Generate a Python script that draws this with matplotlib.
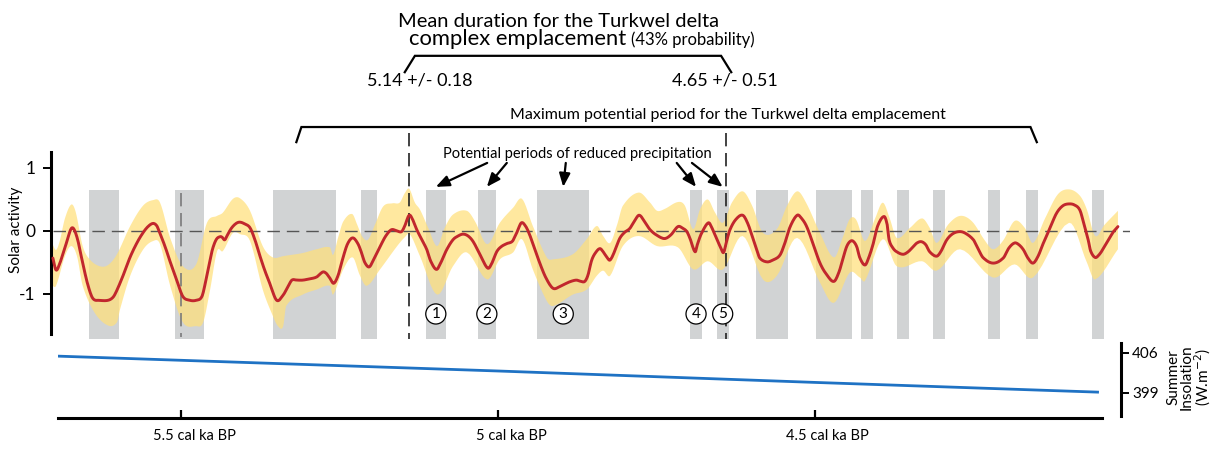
import numpy as np
import matplotlib
matplotlib.use('Agg')
import matplotlib.pyplot as plt
from matplotlib import font_manager as fm
from matplotlib.transforms import ScaledTranslation

# ---------------- data (ages in cal ka BP) ----------------
mean_age = [5.702, 5.697, 5.691, 5.681, 5.672, 5.664, 5.655, 5.647, 5.639, 5.628, 5.615, 5.607, 5.601,
            5.591, 5.580, 5.569, 5.560, 5.552, 5.544, 5.538, 5.533, 5.525, 5.517, 5.506, 5.497, 5.486,
            5.476, 5.467, 5.461, 5.454, 5.450, 5.444, 5.438, 5.435, 5.431, 5.426, 5.420, 5.413, 5.407,
            5.399, 5.391, 5.383, 5.375, 5.368, 5.360, 5.349, 5.339, 5.331, 5.325, 5.317, 5.308, 5.297,
            5.286, 5.276, 5.270, 5.265, 5.259, 5.252, 5.244, 5.237, 5.229, 5.221, 5.215, 5.210, 5.203,
            5.196, 5.186, 5.177, 5.168, 5.159, 5.152, 5.147, 5.140, 5.134, 5.128, 5.121, 5.112, 5.106,
            5.097, 5.090, 5.081, 5.071, 5.063, 5.055, 5.047, 5.039, 5.028, 5.016, 5.009, 5.002, 4.995,
            4.986, 4.977, 4.970, 4.963, 4.956, 4.950, 4.942, 4.934, 4.924, 4.913, 4.902, 4.892, 4.885,
            4.876, 4.869, 4.863, 4.858, 4.852, 4.845, 4.839, 4.834, 4.828, 4.823, 4.815, 4.808, 4.800,
            4.792, 4.784, 4.777, 4.768, 4.760, 4.749, 4.737, 4.727, 4.716, 4.708, 4.702, 4.697, 4.689,
            4.685, 4.679, 4.668, 4.662, 4.655, 4.648, 4.644, 4.639, 4.634, 4.625, 4.614, 4.606, 4.597,
            4.591, 4.587, 4.576, 4.566, 4.555, 4.547, 4.539, 4.528, 4.521, 4.513, 4.503, 4.492, 4.481,
            4.470, 4.462, 4.455, 4.450, 4.445, 4.440, 4.434, 4.429, 4.421, 4.415, 4.408, 4.401, 4.391,
            4.386, 4.383, 4.377, 4.371, 4.361, 4.353, 4.345, 4.339, 4.332, 4.325, 4.319, 4.308, 4.301,
            4.292, 4.282, 4.271, 4.262, 4.250, 4.243, 4.235, 4.219, 4.203, 4.194, 4.185, 4.178, 4.171,
            4.164, 4.156, 4.148, 4.140, 4.129, 4.119, 4.109, 4.099, 4.090, 4.082, 4.076, 4.069, 4.065,
            4.058, 4.052, 4.045, 4.038, 4.029, 4.022]
mean_solar = [-0.43, -0.62, -0.51, -0.20, 0.05, -0.10, -0.51, -0.85, -1.07, -1.10, -1.10, -1.05, -0.94,
              -0.70, -0.41, -0.18, -0.03, 0.07, 0.12, 0.08, -0.04, -0.25, -0.49, -0.80, -1.04, -1.10,
              -1.10, -1.04, -0.80, -0.46, -0.28, -0.13, -0.09, -0.10, -0.14, -0.05, 0.05, 0.12, 0.14,
              0.11, 0.05, -0.15, -0.41, -0.62, -0.83, -1.10, -1.02, -0.88, -0.78, -0.78, -0.78, -0.76,
              -0.73, -0.65, -0.68, -0.75, -0.83, -0.70, -0.41, -0.20, -0.11, -0.20, -0.35, -0.50, -0.57,
              -0.45, -0.25, -0.08, 0.02, 0.00, -0.01, 0.08, 0.25, 0.17, 0.02, -0.12, -0.30, -0.48,
              -0.61, -0.50, -0.30, -0.14, -0.08, -0.05, -0.08, -0.17, -0.38, -0.59, -0.50, -0.33, -0.25,
              -0.20, -0.16, -0.02, 0.13, 0.07, -0.06, -0.28, -0.51, -0.75, -0.91, -0.88, -0.83, -0.80,
              -0.78, -0.80, -0.80, -0.70, -0.46, -0.33, -0.28, -0.33, -0.42, -0.46, -0.30, -0.12, -0.02,
              0.04, 0.17, 0.25, 0.14, 0.02, -0.07, -0.12, -0.06, 0.07, 0.04, -0.01, -0.12, -0.33,
              -0.20, -0.04, 0.13, 0.04, -0.12, -0.28, -0.34, -0.15, 0.02, 0.18, 0.25, 0.12, -0.14,
              -0.32, -0.43, -0.49, -0.46, -0.38, -0.18, 0.07, 0.25, 0.20, 0.07, -0.20, -0.51, -0.70,
              -0.80, -0.65, -0.41, -0.25, -0.17, -0.16, -0.25, -0.43, -0.54, -0.42, -0.20, 0.08, 0.23,
              0.10, -0.14, -0.27, -0.33, -0.37, -0.33, -0.25, -0.19, -0.17, -0.22, -0.33, -0.40, -0.32,
              -0.14, -0.04, -0.01, -0.04, -0.14, -0.27, -0.42, -0.51, -0.43, -0.27, -0.19, -0.22, -0.30,
              -0.43, -0.51, -0.40, -0.20, 0.05, 0.28, 0.40, 0.43, 0.41, 0.33, 0.12, -0.14, -0.32,
              -0.42, -0.38, -0.28, -0.16, -0.01, 0.07]

upper_age = [5.703, 5.697, 5.691, 5.683, 5.673, 5.666, 5.655, 5.644, 5.628, 5.615, 5.601, 5.580, 5.560,
             5.544, 5.533, 5.517, 5.497, 5.476, 5.459, 5.443, 5.434, 5.418, 5.407, 5.391, 5.371, 5.355,
             5.339, 5.333, 5.308, 5.286, 5.265, 5.260, 5.252, 5.244, 5.230, 5.222, 5.214, 5.205, 5.194,
             5.181, 5.166, 5.155, 5.147, 5.140, 5.131, 5.123, 5.110, 5.096, 5.084, 5.071, 5.049, 5.036,
             5.017, 4.997, 4.976, 4.962, 4.945, 4.923, 4.913, 4.882, 4.860, 4.844, 4.834, 4.823, 4.812,
             4.803, 4.778, 4.760, 4.749, 4.737, 4.716, 4.705, 4.692, 4.681, 4.669, 4.658, 4.645, 4.631,
             4.614, 4.599, 4.582, 4.560, 4.544, 4.528, 4.514, 4.492, 4.470, 4.456, 4.445, 4.435, 4.421,
             4.405, 4.393, 4.382, 4.371, 4.350, 4.331, 4.319, 4.308, 4.290, 4.271, 4.252, 4.232, 4.219,
             4.203, 4.185, 4.169, 4.156, 4.137, 4.117, 4.099, 4.082, 4.071, 4.058, 4.043, 4.022]
upper_solar = [-0.20, -0.30, -0.15, 0.20, 0.42, 0.30, -0.24, -0.45, -0.56, -0.54, -0.37, 0.08, 0.40,
               0.49, 0.45, -0.11, -0.56, -0.53, 0.13, 0.24, 0.29, 0.51, 0.52, 0.32, -0.24, -0.42,
               -0.40, -0.39, -0.35, -0.29, -0.26, -0.38, -0.10, 0.15, 0.27, 0.10, -0.09, -0.14, 0.10,
               0.39, 0.44, 0.45, 0.60, 0.67, 0.45, 0.34, 0.05, -0.24, 0.05, 0.26, 0.32, 0.15,
               -0.21, 0.13, 0.37, 0.51, 0.08, -0.42, -0.45, -0.37, -0.13, 0.08, -0.08, -0.19, 0.10,
               0.40, 0.61, 0.45, 0.32, 0.35, 0.46, 0.40, 0.03, 0.35, 0.50, 0.30, 0.13, 0.45,
               0.63, 0.40, -0.03, 0.03, 0.40, 0.63, 0.45, -0.03, -0.42, -0.10, 0.19, 0.18, -0.16,
               0.20, 0.45, 0.20, -0.11, 0.05, 0.20, 0.05, -0.19, 0.10, 0.24, 0.15, -0.15, -0.29,
               -0.15, 0.16, 0.05, -0.19, 0.20, 0.58, 0.66, 0.56, 0.34, -0.08, 0.10, 0.32]

lower_age = [5.703, 5.697, 5.683, 5.673, 5.664, 5.655, 5.636, 5.615, 5.601, 5.596, 5.580, 5.560, 5.544,
             5.533, 5.517, 5.497, 5.476, 5.465, 5.454, 5.443, 5.434, 5.418, 5.407, 5.391, 5.371, 5.355,
             5.347, 5.339, 5.334, 5.308, 5.286, 5.265, 5.260, 5.244, 5.229, 5.218, 5.207, 5.186, 5.159,
             5.147, 5.139, 5.123, 5.096, 5.071, 5.049, 5.017, 4.997, 4.976, 4.962, 4.945, 4.923, 4.913,
             4.882, 4.860, 4.844, 4.834, 4.823, 4.803, 4.778, 4.749, 4.716, 4.692, 4.669, 4.645, 4.614,
             4.582, 4.560, 4.528, 4.492, 4.470, 4.445, 4.429, 4.421, 4.393, 4.371, 4.331, 4.308, 4.271,
             4.219, 4.185, 4.156, 4.099, 4.071, 4.058, 4.022]
lower_solar = [-0.87, -0.87, -0.40, -0.24, -0.40, -0.87, -1.30, -1.50, -1.45, -1.24, -0.71, -0.30, -0.16,
               -0.21, -0.87, -1.45, -1.51, -1.45, -0.93, -0.32, -0.32, -0.03, -0.05, -0.16, -0.93, -1.35,
               -1.51, -1.52, -1.19, -1.01, -0.93, -0.87, -1.01, -0.61, -0.42, -0.70, -0.87, -0.61, -0.24,
               -0.10, -0.05, -0.40, -1.01, -0.56, -0.34, -0.77, -0.45, -0.34, -0.13, -0.61, -1.11, -1.19,
               -1.01, -0.93, -0.71, -0.63, -0.71, -0.24, -0.08, -0.24, -0.26, -0.61, -0.48, -0.61, -0.08,
               -0.77, -0.71, -0.11, -0.82, -1.14, -0.66, -0.74, -0.79, -0.13, -0.56, -0.48, -0.63, -0.29,
               -0.74, -0.53, -0.74, 0.13, -0.50, -0.77, -0.29]

# grey bands (periods of low solar activity), older edge / younger edge
bar_start = [5.645, 5.509, 5.355, 5.216, 5.114, 5.032, 4.938, 4.697, 4.655, 4.593, 4.498, 4.427,
             4.371, 4.314, 4.227, 4.167, 4.063]
bar_end = [5.598, 5.464, 5.256, 5.191, 5.082, 5.003, 4.856, 4.678, 4.636, 4.543, 4.442, 4.409,
           4.352, 4.295, 4.208, 4.148, 4.044]
numbered_bars = [4, 5, 6, 7, 8]          # bars labelled 1..5
bar_labels = ['1', '2', '3', '4', '5']

insol_age = [5.694, 5.0, 4.5, 4.054]
insol_val = [405.4, 402.8, 400.8, 399.1]

mean_start, mean_end = 5.14, 4.64
max_start, max_end = 5.31, 4.16
x_ticks = [5.5, 5.0, 4.5]
x_ticklabels = ['5.5 cal ka BP', '5 cal ka BP', '4.5 cal ka BP']
y_ticks = [-1, 0, 1]
y_ticklabels = ['-1', '0', '1']
ins_ticks = [399, 406]

# ---------------- style ----------------
avail = {f.name for f in fm.fontManager.ttflist}
main_font = 'Lato' if 'Lato' in avail else 'DejaVu Sans'
plt.rcParams['font.family'] = [main_font, 'DejaVu Sans']

RED = '#C1272D'
BAND = '#FFE07A'
GREY = '#D1D3D4'
BLUE = '#1F72C4'


def smooth_path(x, y, n=8):
    """Cubic Hermite drawing path through the read points (for a smooth stroke)."""
    x = np.asarray(x, float)
    y = np.asarray(y, float)
    m = np.zeros_like(y)
    m[1:-1] = (y[2:] - y[:-2]) / (x[2:] - x[:-2])
    m[0] = (y[1] - y[0]) / (x[1] - x[0])
    m[-1] = (y[-1] - y[-2]) / (x[-1] - x[-2])
    xs, ys = [], []
    for i in range(len(x) - 1):
        h = x[i + 1] - x[i]
        t = np.linspace(0, 1, n, endpoint=False)
        h00 = 2 * t**3 - 3 * t**2 + 1
        h10 = t**3 - 2 * t**2 + t
        h01 = -2 * t**3 + 3 * t**2
        h11 = t**3 - t**2
        xs.append(x[i] + t * h)
        ys.append(h00 * y[i] + h10 * h * m[i] + h01 * y[i + 1] + h11 * h * m[i + 1])
    xs.append([x[-1]])
    ys.append([y[-1]])
    return np.concatenate(xs), np.concatenate(ys)


W, H = 1215, 449
fig = plt.figure(figsize=(W / 100, H / 100), dpi=100)


def fpos(x0, y0, x1, y1):
    return [x0 / W, 1 - y1 / H, (x1 - x0) / W, (y1 - y0) / H]


# ---------------- solar activity panel ----------------
ax1 = fig.add_axes(fpos(51, 140, 1130, 342))
ax1.set_xlim(5.705, 4.003)
ax1.set_ylim(-1.762, 1.444)
for s in ['top', 'right', 'bottom']:
    ax1.spines[s].set_visible(False)
ax1.spines['left'].set_bounds(-1.63, 1.25)
ax1.spines['left'].set_linewidth(2.2)
ax1.set_xticks([])
ax1.set_yticks(y_ticks)
ax1.set_yticklabels(y_ticklabels)
ax1.tick_params(axis='y', direction='out', length=6, width=1.4, pad=5, labelsize=12.5)
ax1.set_ylabel('Solar activity', fontsize=11)
ax1.yaxis.set_label_coords(-0.026, 0.554)

bar_top, bar_bot = 0.65, -1.71
for a, b in zip(bar_start, bar_end):
    ax1.add_patch(plt.Rectangle((b, bar_bot), a - b, bar_top - bar_bot, fc=GREY, ec='none',
                                zorder=1, clip_on=False))

ux, uy = smooth_path(upper_age[::-1], upper_solar[::-1])
lx, ly = smooth_path(lower_age[::-1], lower_solar[::-1])
band_x = np.concatenate([ux, lx[::-1]])
band_y = np.concatenate([uy, ly[::-1]])
ax1.fill(band_x, band_y, color=BAND, alpha=0.72, lw=0, zorder=2)

ax1.axhline(0, xmin=0.002, xmax=1.0, color='#555555', lw=1.0, dashes=(9, 5), zorder=3)
ax1.plot([5.5, 5.5], [0.60, -1.68], color='#7a7a7a', lw=1.2, dashes=(8, 4), zorder=3)
for xv in (mean_start, mean_end):
    ax1.plot([xv, xv], [1.556, -1.71], color='#222222', lw=1.2, dashes=(8, 4), zorder=3,
             clip_on=False)

mx, my = smooth_path(mean_age[::-1], mean_solar[::-1])
ax1.plot(mx, my, color=RED, lw=2.1, zorder=4, solid_joinstyle='round', solid_capstyle='round')

for i, lab in zip(numbered_bars, bar_labels):
    xc = (bar_start[i] + bar_end[i]) / 2
    ax1.text(xc, -1.317, lab, ha='center', va='center', fontsize=11, zorder=6,
             bbox=dict(boxstyle='circle,pad=0.2', fc='white', ec='black', lw=0.9))

# arrows from the caption to the numbered bars
arrow_tails = [(5.017, 1.08), (4.986, 1.08), (4.893, 1.08), (4.718, 1.08), (4.694, 1.08)]
for (tx, ty), i in zip(arrow_tails, numbered_bars):
    hx = (bar_start[i] + bar_end[i]) / 2
    ax1.annotate('', xy=(hx, 0.70), xytext=(tx, ty), annotation_clip=False,
                 arrowprops=dict(arrowstyle='-|>,head_length=0.8,head_width=0.33', color='black',
                                 lw=1.6, shrinkA=0, shrinkB=0))

# brackets
ax1.plot([5.147, 5.131, 4.648, 4.632], [2.52, 2.78, 2.78, 2.52], color='black', lw=1.6,
         clip_on=False, solid_joinstyle='miter')
ax1.plot([max_start + 0.008, max_start, max_end, max_end - 0.01], [1.41, 1.65, 1.65, 1.41],
         color='black', lw=1.6, clip_on=False, solid_joinstyle='miter')

# texts
fig.text(559 / W, 1 - 27 / H, 'Mean duration for the Turkwel delta', ha='center', va='baseline',
         fontsize=14.5)
fig.text(626 / W, 1 - 45 / H, 'complex emplacement', ha='right', va='baseline', fontsize=15.8)
fig.text(631 / W, 1 - 45 / H, '(43% probability)', ha='left', va='baseline', fontsize=12)
fig.text(420 / W, 1 - 85 / H, '5.14 +/- 0.18', ha='center', va='baseline', fontsize=13)
fig.text(725 / W, 1 - 85 / H, '4.65 +/- 0.51', ha='center', va='baseline', fontsize=13)
fig.text(728 / W, 1 - 119 / H, 'Maximum potential period for the Turkwel delta emplacement',
         ha='center', va='baseline', fontsize=11.5)
fig.text(577 / W, 1 - 158 / H, 'Potential periods of reduced precipitation', ha='center',
         va='baseline', fontsize=10.5)

# ---------------- insolation panel ----------------
ax2 = fig.add_axes(fpos(58, 343, 1121, 418))
ax2.set_xlim(5.694, 4.017)
ax2.set_ylim(394.57, 407.70)
ax2.patch.set_alpha(0)
for s in ['top', 'left']:
    ax2.spines[s].set_visible(False)
ax2.spines['bottom'].set_bounds(5.694, 4.047)
ax2.spines['right'].set_bounds(394.92, 407.7)
ax2.spines['bottom'].set_linewidth(2.2)
ax2.spines['right'].set_linewidth(2.2)
ax2.plot(insol_age, insol_val, color=BLUE, lw=2.0)
ax2.yaxis.tick_right()
ax2.set_yticks(ins_ticks)
ax2.set_yticklabels([str(t) for t in ins_ticks])
ax2.tick_params(axis='y', direction='out', length=6, width=1.4, pad=2, labelsize=11)
ax2.set_xticks(x_ticks)
ax2.set_xticklabels(x_ticklabels)
ax2.tick_params(axis='x', direction='in', length=6, width=1.6, pad=8, labelsize=10.5)
for lbl in ax2.get_xticklabels():
    lbl.set_transform(lbl.get_transform() + ScaledTranslation(0.13, 0, fig.dpi_scale_trans))

fig.text(1190 / W, 1 - 377 / H, 'Summer\nInsolation\n(W.m$^{-2}$)', rotation=90, ha='center',
         va='center', multialignment='center', fontsize=11, linespacing=0.95)

fig.savefig('out.png', dpi=100)
